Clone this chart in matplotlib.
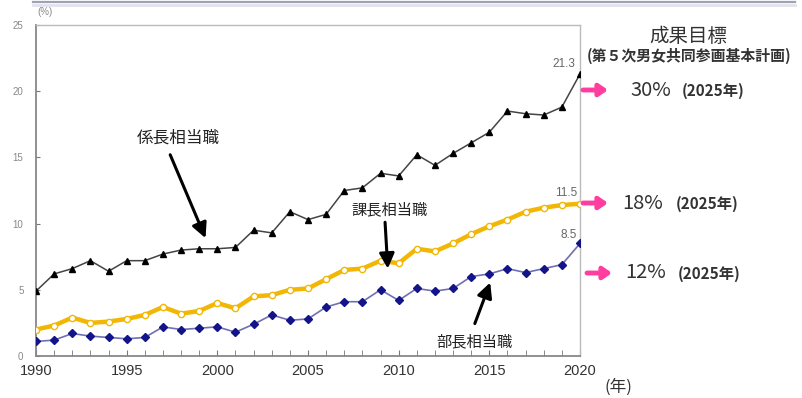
import matplotlib
matplotlib.use('Agg')
import matplotlib.pyplot as plt
from matplotlib import font_manager
from matplotlib.lines import Line2D
import numpy as np

plt.rcParams['font.family'] = ['Noto Sans CJK JP', 'DejaVu Sans']

# Data
years = list(range(1990, 2021))
kakaricho = [4.9, 6.2, 6.6, 7.2, 6.4, 7.2, 7.2, 7.7, 8.0, 8.1, 8.1, 8.2, 9.5, 9.3, 10.9, 10.3,
             10.7, 12.5, 12.7, 13.8, 13.6, 15.2, 14.4, 15.3, 16.1, 16.9, 18.5, 18.3, 18.2, 18.8, 21.3]
kacho = [2.0, 2.3, 2.9, 2.5, 2.6, 2.8, 3.1, 3.7, 3.2, 3.4, 4.0, 3.6, 4.5, 4.6, 5.0, 5.1,
         5.8, 6.5, 6.6, 7.2, 7.0, 8.1, 7.9, 8.5, 9.2, 9.8, 10.3, 10.9, 11.2, 11.4, 11.5]
bucho = [1.1, 1.2, 1.7, 1.5, 1.4, 1.3, 1.4, 2.2, 2.0, 2.1, 2.2, 1.8, 2.4, 3.1, 2.7, 2.8,
         3.7, 4.1, 4.1, 5.0, 4.2, 5.1, 4.9, 5.1, 6.0, 6.2, 6.6, 6.3, 6.6, 6.9, 8.5]
series_names = ['係長相当職', '課長相当職', '部長相当職']
targets = ['30%', '18%', '12%']
target_year = '(2025年)'
x_ticks = [1990, 1995, 2000, 2005, 2010, 2015, 2020]
y_ticks = [0, 5, 10, 15, 20, 25]

# narrow font for the numbers if we have it
names = {f.name for f in font_manager.fontManager.ttflist}
num_font = 'Liberation Sans Narrow' if 'Liberation Sans Narrow' in names else 'Liberation Sans'

W, H = 803, 398
fig = plt.figure(figsize=(W / 100, H / 100), dpi=100)
ax = fig.add_axes([36 / W, 1 - 356 / H, (580 - 36) / W, (356 - 25) / H])

ax.plot(years, kakaricho, color='#444444', lw=1.1, marker='^', ms=5,
        mfc='black', mec='black', zorder=3)
ax.plot(years, kacho, color='#F2B705', lw=3.2, marker='o', ms=4.5,
        mfc='white', mec='#F2B705', mew=1, zorder=3)
ax.plot(years, bucho, color='#6F6FB5', lw=1.2, marker='D', ms=4,
        mfc='#14148A', mec='#14148A', zorder=3)

ax.set_xlim(1990, 2020)
ax.set_ylim(0, 25)
ax.set_xticks(x_ticks)
ax.set_xticks(years, minor=True)
ax.set_yticks(y_ticks)
ax.tick_params(axis='x', which='both', direction='in', length=4, color='#777777',
               labelsize=10.5, labelcolor='#333333', pad=6)
ax.tick_params(axis='y', direction='in', length=3, color='#777777',
               labelsize=7, labelcolor='#888888', pad=9)
for lab in ax.get_xticklabels() + ax.get_yticklabels():
    lab.set_fontfamily(num_font)

for s in ['left', 'bottom']:
    ax.spines[s].set_color('#888888')
    ax.spines[s].set_linewidth(1.3)
for s in ['top', 'right']:
    ax.spines[s].set_color('#BBBBBB')
    ax.spines[s].set_linewidth(1.0)

# end-of-line value labels
ax.annotate(f'{kakaricho[-1]}', (years[-1], kakaricho[-1]), xytext=(-16, 10),
            textcoords='offset pixels', ha='center', va='center', fontsize=8.5,
            color='#666666', family=num_font)
ax.annotate(f'{kacho[-1]}', (years[-1], kacho[-1]), xytext=(-14, 11),
            textcoords='offset pixels', ha='center', va='center', fontsize=8.5,
            color='#666666', family=num_font)
ax.annotate(f'{bucho[-1]}', (years[-1], bucho[-1]), xytext=(-11, 8),
            textcoords='offset pixels', ha='center', va='center', fontsize=8.5,
            color='#666666', family=num_font)

# series names with arrows
arrow = dict(arrowstyle='-|>,head_length=0.9,head_width=0.45', color='black', lw=2.2,
             shrinkA=0, shrinkB=0)
ax.text(1997.85, 16.45, series_names[0], ha='center', va='center', fontsize=12, color='#222222')
ax.annotate('', xy=(1999.35, 8.9), xytext=(1997.4, 15.2), arrowprops=arrow)
ax.text(2009.5, 11.05, series_names[1], ha='center', va='center', fontsize=11, color='#222222')
ax.annotate('', xy=(2009.4, 6.6), xytext=(2009.25, 10.1), arrowprops=arrow)
ax.text(2014.2, 1.05, series_names[2], ha='center', va='center', fontsize=11, color='#222222')
ax.annotate('', xy=(2015.05, 5.55), xytext=(2014.2, 2.45), arrowprops=arrow)

fig.text(45 / W, 1 - 12 / H, '(%)', fontsize=7, color='#888888', ha='center', va='center',
         family=num_font)
fig.text(618 / W, 1 - 387 / H, '(年)', fontsize=12, color='#333333', ha='center', va='center')

# right-hand targets
fig.text(688 / W, 1 - 37 / H, '成果目標', fontsize=14, color='#333333', ha='center', va='center')
fig.text(689 / W, 1 - 56 / H, '(第５次男女共同参画基本計画)', fontsize=10.7, fontweight='bold',
         color='#333333', ha='center', va='center')
pink = dict(arrowstyle='-|>,head_length=0.5,head_width=0.35', color='#FF3EA0', lw=3.5,
            shrinkA=0, shrinkB=0)
rows = [(90, 583, 630, 682), (203, 583, 622, 676), (273, 587, 625, 678)]
for t, (py, ax0, tx, yx) in zip(targets, rows):
    fig.add_artist(plt.Annotation('', xy=(ax0 + 25, H - py), xytext=(ax0, H - py),
                                  xycoords='figure pixels', arrowprops=pink))
    fig.text(tx / W, 1 - py / H, t, fontsize=14.5, color='#333333', ha='left', va='center')
    fig.text(yx / W, 1 - (py + 1) / H, target_year, fontsize=11, fontweight='bold',
             color='#333333', ha='left', va='center')

# frame edge of the slide above the chart
fig.add_artist(Line2D([33 / W, 795 / W], [1 - 2 / H, 1 - 2 / H], color='#9EA2B8', lw=1.6))
fig.add_artist(Line2D([33 / W, 795 / W], [1 - 5 / H, 1 - 5 / H], color='#E2E3EA', lw=2))

fig.savefig('out.png', dpi=100)
